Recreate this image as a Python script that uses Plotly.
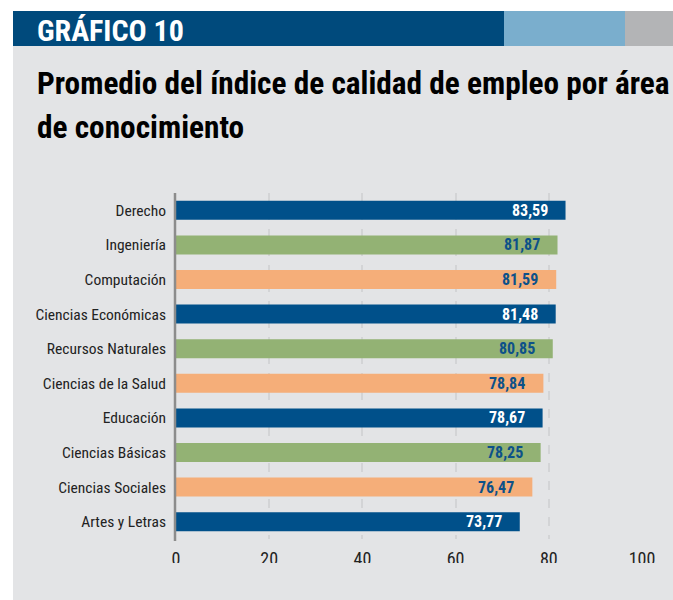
import plotly.graph_objects as go

categories = ["Derecho", "Ingeniería", "Computación", "Ciencias Económicas",
              "Recursos Naturales", "Ciencias de la Salud", "Educación",
              "Ciencias Básicas", "Ciencias Sociales", "Artes y Letras"]
values = [83.59, 81.87, 81.59, 81.48, 80.85, 78.84, 78.67, 78.25, 76.47, 73.77]
tick_vals = [0, 20, 40, 60, 80, 100]
header_text = "GRÁFICO 10"
title_line1 = "Promedio del índice de calidad de empleo por área"
title_line2 = "de conocimiento"

BLUE = "#00508a"
GREEN = "#93b274"
ORANGE = "#f5ae79"
palette = [BLUE, GREEN, ORANGE]
bar_colors = [palette[i % 3] for i in range(len(categories))]
label_colors = ["white" if c == BLUE else "#0d5189" for c in bar_colors]

W, H = 673, 600
L, R, T, B = 176, 31, 193, 61
PW, PH = W - L - R, H - T - B

def px(xp):
    return (xp - L) / PW

def py(yp):
    return (H - B - yp) / PH

COND = "Roboto Condensed, Open Sans Condensed, sans-serif"

fig = go.Figure(go.Bar(
    x=values, y=categories, orientation="h",
    marker=dict(color=bar_colors, line=dict(width=0)),
    hoverinfo="skip",
))

annotations = []
for cat, v, col in zip(categories, values, label_colors):
    annotations.append(dict(
        x=v, y=cat, xref="x", yref="y", xanchor="right", yanchor="middle",
        xshift=-16, showarrow=False,
        text="<b>" + f"{v:.2f}".replace(".", ",") + "</b>",
        font=dict(family=COND, size=16, color=col),
    ))

annotations += [
    dict(x=px(35), y=py(31), xref="paper", yref="paper", xanchor="left", yanchor="middle",
         showarrow=False, text="<b>" + header_text + "</b>",
         font=dict(family=COND, size=30, color="white")),
    dict(x=px(35), y=py(84), xref="paper", yref="paper", xanchor="left", yanchor="middle",
         showarrow=False, text="<b>" + title_line1 + "</b>",
         font=dict(family=COND, size=31.3, color="black")),
    dict(x=px(35), y=py(127), xref="paper", yref="paper", xanchor="left", yanchor="middle",
         showarrow=False, text="<b>" + title_line2 + "</b>",
         font=dict(family=COND, size=31.3, color="black")),
]

def rect(x0, y0, x1, y1, color, layer="below"):
    return dict(type="rect", xref="paper", yref="paper",
                x0=px(x0), x1=px(x1), y0=py(y1), y1=py(y0),
                fillcolor=color, line=dict(width=0), layer=layer)

shapes = [
    rect(13, 46, 673, 600, "#e3e4e6"),
    rect(13, 11, 504, 46, "#004a7c"),
    rect(504, 11, 625, 46, "#7aaecd"),
    rect(625, 11, 673, 46, "#b3b4b6"),
    # crop of the x tick labels as in the source image
    rect(13, 563, 673, 600, "#e3e4e6", layer="above"),
    # left axis line
    dict(type="line", xref="paper", yref="paper", x0=px(175), x1=px(175),
         y0=py(541), y1=1, line=dict(color="#8c8c8c", width=2.5), layer="above"),
]

fig.update_layout(
    width=W, height=H,
    margin=dict(l=L, r=R, t=T, b=B, pad=0),
    paper_bgcolor="white", plot_bgcolor="white",
    showlegend=False, bargap=0.45,
    shapes=shapes, annotations=annotations,
    xaxis=dict(range=[0, 100], tickvals=tick_vals, showgrid=True,
               gridcolor="#d3d4d6", griddash="dash", gridwidth=1.5,
               zeroline=False, showline=False, ticks="",
               ticklabelstandoff=7,
               tickfont=dict(family=COND, size=18, color="#222222"),
               fixedrange=True),
    yaxis=dict(categoryorder="array", categoryarray=categories, autorange="reversed",
               showgrid=False, zeroline=False, showline=False, ticks="",
               ticklabelstandoff=9,
               tickfont=dict(family=COND, size=15.5, color="#222222"),
               fixedrange=True),
)

fig.write_html("out.html", config={"displayModeBar": False},
               post_script="document.body.style.margin='0';")
